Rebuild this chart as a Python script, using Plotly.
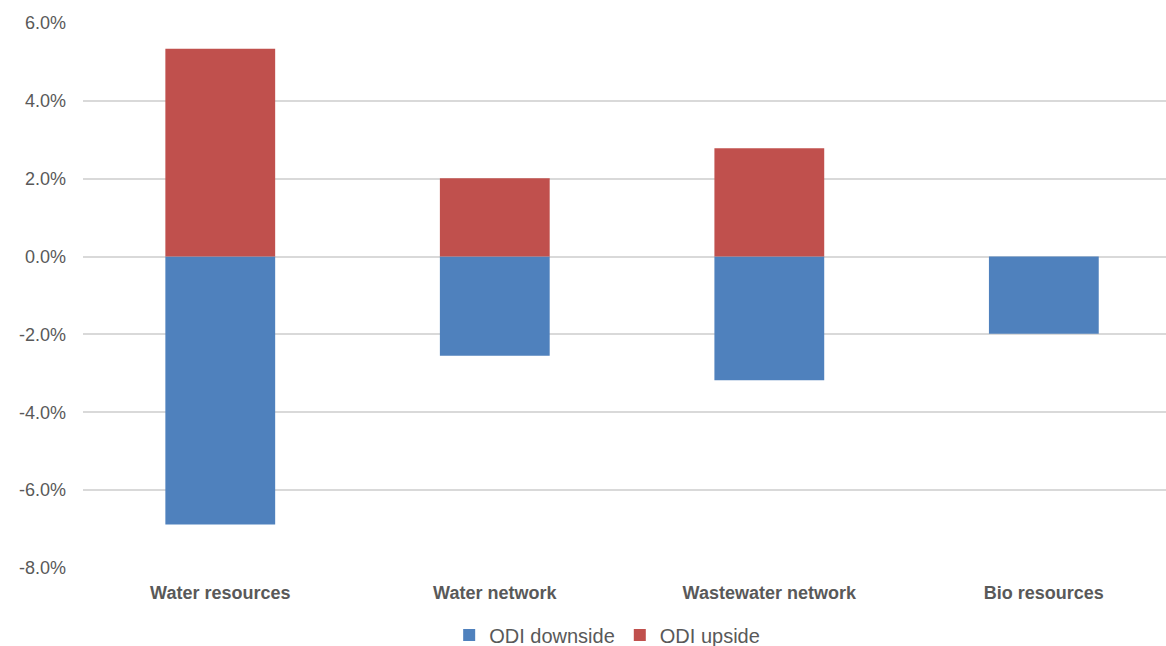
import plotly.graph_objects as go

categories = ["Water resources", "Water network", "Wastewater network", "Bio resources"]
odi_downside = [-0.0688, -0.0255, -0.0318, -0.0198]
odi_upside = [0.0534, 0.0201, 0.0278, 0.0]

tick_vals = [-0.08, -0.06, -0.04, -0.02, 0.0, 0.02, 0.04, 0.06]
tick_text = [f"{v * 100:.1f}%" for v in tick_vals]

fig = go.Figure()
fig.add_trace(go.Bar(x=categories, y=odi_downside, name="ODI downside",
                     marker=dict(color="#4F81BD", line=dict(width=0))))
fig.add_trace(go.Bar(x=categories, y=odi_upside, name="ODI upside",
                     marker=dict(color="#C0504D", line=dict(width=0))))

fig.update_layout(
    barmode="relative",
    bargap=0.6,
    width=1166, height=646,
    margin=dict(l=83, r=0, t=23, b=78, autoexpand=False),
    plot_bgcolor="white", paper_bgcolor="white",
    font=dict(family="Liberation Sans, Arial, sans-serif", color="#595959", size=18),
    legend=dict(orientation="h", x=0.484, xanchor="center",
                yref="container", y=0.017, yanchor="middle",
                font=dict(size=20, color="#595959"), traceorder="normal"),
    xaxis=dict(range=[-0.5, 3.445], showgrid=False, showline=False, ticks="",
               automargin=False, ticklabelstandoff=12,
               tickfont=dict(size=18, color="#595959", family="Liberation Sans, Arial, sans-serif"),
               tickprefix="<b>", ticksuffix="</b>"),
    yaxis=dict(range=[-0.08, 0.06], tickvals=tick_vals, ticktext=tick_text,
               automargin=False,
               showgrid=True, gridcolor="#D9D9D9", gridwidth=1.5,
               zeroline=True, zerolinecolor="#D9D9D9", zerolinewidth=1.5,
               ticks="", ticklabelstandoff=16, tickfont=dict(size=18, color="#595959")),
)

fig.write_html("out.html")
